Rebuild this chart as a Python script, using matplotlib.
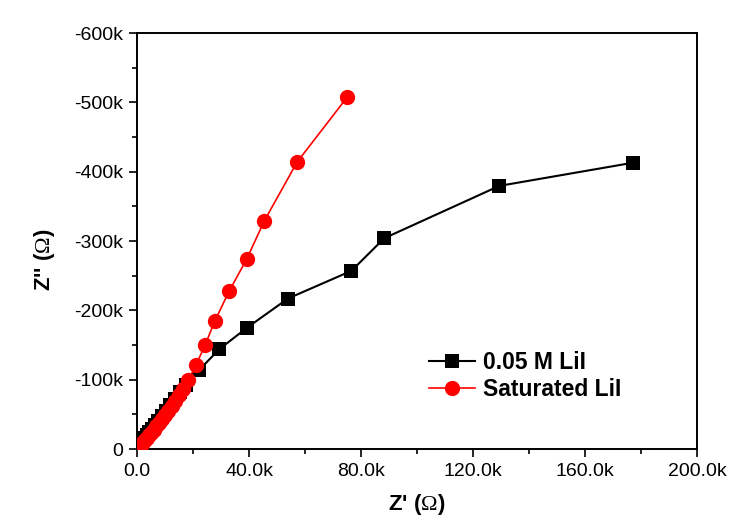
import matplotlib
matplotlib.use("Agg")
import matplotlib.pyplot as plt
from matplotlib.ticker import FixedLocator, FixedFormatter, MultipleLocator

plt.rcParams['font.family'] = ['Liberation Sans', 'DejaVu Sans']
plt.rcParams['mathtext.fontset'] = 'custom'
plt.rcParams['mathtext.rm'] = 'Liberation Serif'

# ---- data (ohms) ----
series_labels = ["0.05 M LiI", "Saturated LiI"]

z_real_005 = [177300, 129400, 88300, 76600, 53900, 39200, 29400, 22200,
              17500, 15500, 13600, 11900, 10300, 8900, 7600, 6400, 5300,
              4300, 3400, 2600, 1900, 1300, 800, 400, 150]
z_imag_005 = [-413000, -379500, -304000, -257000, -217000, -174600, -144000, -114000,
              -93000, -82000, -72000, -63000, -55000, -47500, -40500, -34500, -29000,
              -24000, -19500, -15500, -11500, -8000, -5000, -2500, -800]

z_real_sat = [75000, 57200, 45400, 39200, 32900, 27800, 24300, 21100, 18300,
              16600, 15100, 13700, 12400, 11200, 10000, 8900, 7900, 6900, 6000,
              5100, 4300, 3600, 2900, 2300, 1700, 1200, 800, 400, 150]
z_imag_sat = [-507000, -414000, -328500, -274000, -227600, -184700, -149600, -121600, -99000,
              -86000, -77500, -69500, -62000, -55500, -49000, -43000, -37500, -32500, -28000,
              -23500, -19500, -16000, -12500, -9500, -7000, -4800, -3000, -1500, -500]

x_ticks = [0, 40000, 80000, 120000, 160000, 200000]
x_tick_labels = ["0.0", "40.0k", "80.0k", "120.0k", "160.0k", "200.0k"]
y_ticks = [0, -100000, -200000, -300000, -400000, -500000, -600000]
y_tick_labels = ["0", "-100k", "-200k", "-300k", "-400k", "-500k", "-600k"]

fig = plt.figure(figsize=(7.35, 5.25), dpi=100)
ax = fig.add_axes([137/735, 1 - 449/525, (697-137)/735, (449-33)/525])

ax.plot(z_real_005, z_imag_005, color='black', lw=1.5, marker='s', ms=10,
        markeredgewidth=0, label=series_labels[0], zorder=3)
ax.plot(z_real_sat, z_imag_sat, color='#ff0000', lw=1.2, marker='o', ms=11,
        markeredgewidth=0, label=series_labels[1], zorder=4)

ax.set_xlim(0, 200000)
ax.set_ylim(0, -600000)

ax.xaxis.set_major_locator(FixedLocator(x_ticks))
ax.xaxis.set_major_formatter(FixedFormatter(x_tick_labels))
ax.xaxis.set_minor_locator(MultipleLocator(20000))
ax.yaxis.set_major_locator(FixedLocator(y_ticks))
ax.yaxis.set_major_formatter(FixedFormatter(y_tick_labels))
ax.yaxis.set_minor_locator(MultipleLocator(50000))

ax.tick_params(which='major', direction='out', length=6, width=1.2, labelsize=14, pad=4)
ax.tick_params(which='minor', direction='out', length=3.5, width=1.2)
for s in ax.spines.values():
    s.set_linewidth(1.4)

ax.set_xlabel(r"Z' ($\Omega$)", fontsize=16, fontweight='bold', labelpad=9)
ax.set_ylabel(r"Z'' ($\Omega$)", fontsize=16, fontweight='bold')
ax.yaxis.set_label_coords(-0.143, 0.454)

leg = ax.legend(loc='center left', bbox_to_anchor=(0.521, 0.175), frameon=False,
                prop={'weight': 'bold', 'size': 16.5}, handlelength=2.0,
                handletextpad=0.35, labelspacing=0.2, borderpad=0, borderaxespad=0)

fig.savefig("out.png", dpi=100, facecolor='white')
